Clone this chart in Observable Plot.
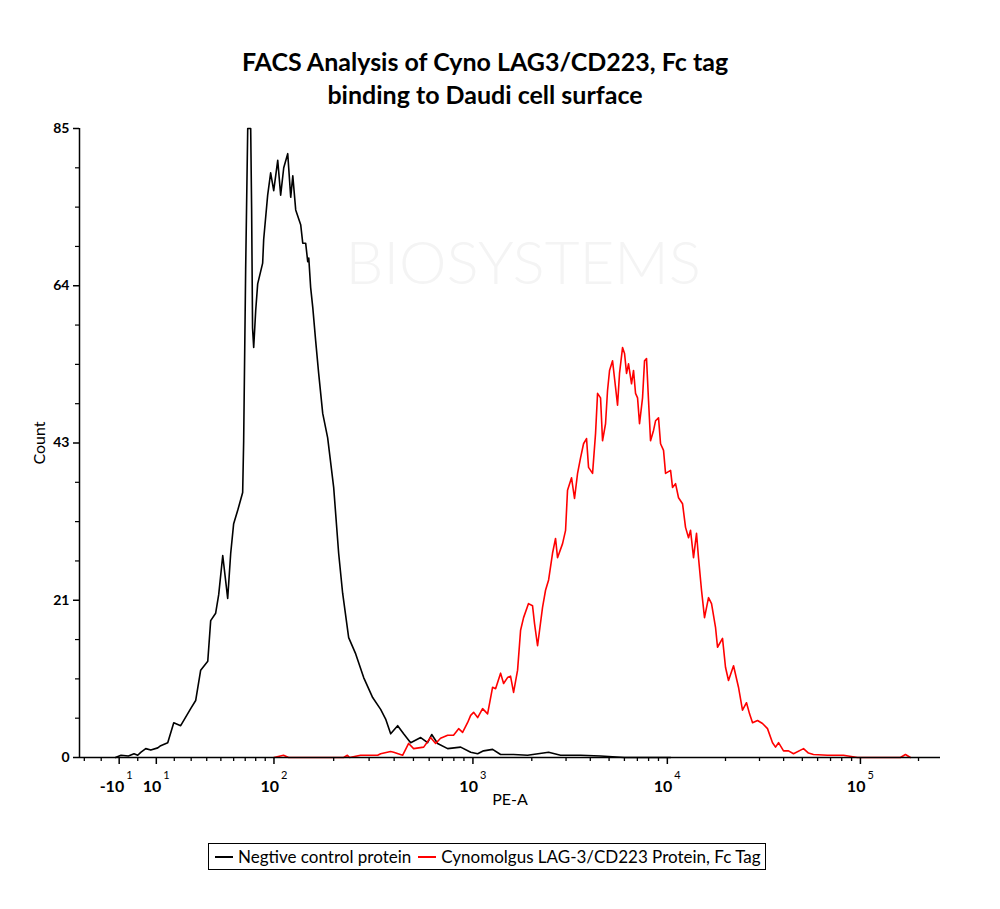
<!DOCTYPE html>
<html>
<head>
<meta charset="utf-8">
<script src="https://cdn.jsdelivr.net/npm/d3@7"></script>
<script src="https://cdn.jsdelivr.net/npm/@observablehq/plot@0.6"></script>
<style>
  html, body { margin: 0; padding: 0; background: #fff; }
  body { width: 1000px; height: 909px; font-family: Lato, "Open Sans", sans-serif; }
  #title { box-sizing: border-box; height: 115px; padding-top: 45px; text-align: center; font-weight: bold; font-size: 25px; line-height: 33px; color: #000; padding-right: 30px; }
  #chart { height: 715px; }
  #legend { position: absolute; left: 208px; top: 843px; width: 556px; height: 25px; border: 1px solid #000; display: flex; align-items: center; font-size: 17px; color: #000; white-space: nowrap; }
  .sw { display: inline-block; width: 18px; height: 2px; margin: 0 5px 0 6px; }
</style>
</head>
<body>
<div id="title">FACS Analysis of Cyno LAG3/CD223, Fc tag<br>binding to Daudi cell surface</div>
<div id="chart"></div>
<div id="legend"><span class="sw" style="background:#000"></span>Negtive control protein<span class="sw" style="background:#ff0000;margin-left:7px"></span>Cynomolgus LAG-3/CD223 Protein, Fc Tag</div>
<script>
// ---- data: PE-A intensity vs. event count ----
const seriesNames = ["Negtive control protein", "Cynomolgus LAG-3/CD223 Protein, Fc Tag"];
const seriesColors = ["#000000", "#ff0000"];

const negX = [-12, -9, -5, -2, 0, 1.6, 4.3, 7.0, 10.8, 12.4, 16.3, 19.7, 23.7, 29.7, 32.8, 36.0, 40.7, 42.7, 46.2, 48.4,
  51.4, 55.2, 57.6, 60.0, 63.4, 67.7, 68.6, 70.4, 72.3, 75.1, 76.0, 76.9, 78.0, 80.0, 82.0, 87.2, 88.3, 92.7, 96.1, 99.7,
  104.6, 108.3, 112.3, 117.7, 121.9, 124.9, 129.2, 136.9, 140.2, 145.0, 148.5, 150.3, 153.6, 157.4, 162.7, 168.4, 176.4, 186.7, 200.0, 211.7,
  221.6, 237.4, 257.3, 281.9, 312.5, 342.5, 362.8, 384.3, 416.6, 446.3, 484, 544, 589, 618, 662, 744, 866, 974, 1057, 1133,
  1260, 1384, 1613, 1903, 2440, 2811, 3563, 4518, 6000, 10400];
const negY = [0, 0.3, 0.2, 0.5, 0.3, 0.7, 1.2, 1.0, 1.3, 1.6, 2.0, 4.7, 4.3, 6.6, 7.7, 11.8, 13.0, 18.5, 19.5, 22.0,
  27.3, 21.5, 27.6, 31.6, 33.4, 35.8, 42.8, 66.0, 85, 85, 74, 58, 55.4, 60.4, 64.0, 66.8, 70.0, 76.0, 79.0, 76.6,
  80.7, 76.0, 79.7, 81.6, 75.7, 78.6, 74.0, 72.0, 69.5, 69.5, 67.0, 67.5, 63.5, 60.8, 56.3, 51.9, 46.5, 43.2, 36.5, 27.6,
  22.2, 16.2, 14.0, 10.8, 8.1, 6.5, 5.2, 3.2, 4.3, 3.2, 2.0, 2.7, 2.0, 3.1, 1.9, 1.2, 1.4, 0.7, 0.5, 0.9,
  1.1, 0.4, 0.4, 0.3, 0.7, 0.3, 0.3, 0.2, 0, 0];

const cynoX = [100, 112, 119, 224, 234, 240, 272, 297, 331, 342.5, 384, 398, 441, 473, 501, 563, 610, 647, 685, 744,
  797, 846, 886, 939, 974, 1008, 1057, 1120, 1188, 1260, 1305, 1384, 1434, 1502, 1556, 1613, 1691, 1752, 1815, 1924,
  2018, 2066, 2141, 2271, 2353, 2440, 2556, 2649, 2712, 2879, 2983, 3053, 3202, 3317, 3439, 3563, 3692, 3825, 3918, 4109,
  4258, 4360, 4518, 4626, 4794, 4909, 5028, 5211, 5401, 5529, 5661, 5868, 6010, 6155, 6300, 6530, 6688, 6850, 7015, 7182,
  7444, 7623, 7806, 7995, 8187, 8485, 8691, 9005, 9225, 9558, 9790, 10393, 10639, 11027, 11427, 11985, 12421, 12874, 13184, 13662,
  14157, 14498, 15026, 15575, 16335, 16932, 17756, 18186, 19300, 20000, 20730, 22010, 23350, 24490, 25690, 26640, 27610, 29300, 31090, 33000,
  35040, 36320, 37650, 39950, 42400, 45000, 50700, 53800, 57100, 67500, 81700, 96600, 161200, 171100, 181600];
const cynoY = [0, 0.3, 0, 0, 0.3, 0, 0.3, 0.3, 0.3, 0.5, 0.8, 0.7, 0.3, 1.9, 1.2, 1.4, 2.7, 1.9, 2.6, 3.0,
  3.0, 3.9, 3.4, 4.7, 5.7, 6.1, 5.4, 6.6, 5.9, 9.5, 9.3, 11.4, 10.0, 10.8, 11.0, 8.8, 11.8, 17.2, 18.9, 20.8,
  20.5, 18.1, 15.1, 20.3, 22.6, 24.0, 27.6, 29.6, 27.0, 28.9, 30.7, 36.1, 37.8, 35.0, 38.4, 40.5, 42.4, 43.1, 39.2, 38.4,
  43.8, 49.2, 48.6, 42.8, 45.1, 49.6, 52.3, 53.6, 50.0, 47.6, 51.9, 55.4, 54.6, 51.9, 53.2, 50.5, 52.3, 49.2, 48.6, 45.1,
  48.6, 53.6, 53.9, 48.2, 42.8, 44.2, 45.5, 45.9, 42.4, 41.5, 38.4, 38.8, 36.5, 37.0, 35.1, 34.3, 31.1, 29.7, 30.7, 27.0,
  30.3, 27.0, 22.6, 18.9, 21.6, 20.8, 17.6, 14.9, 16.1, 12.2, 10.4, 12.4, 9.5, 6.4, 7.4, 5.9, 4.7, 5.0, 4.6, 3.9,
  2.0, 1.4, 2.0, 0.9, 0.9, 0.5, 1.2, 0.6, 0.4, 0.3, 0.3, 0, 0, 0.4, 0];

// axis definitions
const xDomain = [-33, 260000];
const yDomain = [0, 85];
const xMajorTicks = [-10, 10, 100, 1000, 10000, 100000];
const xMajorBase = ["-10", "10", "10", "10", "10", "10"];
const xMajorExp = ["1", "1", "2", "3", "4", "5"];
const xMinorTicks = [-30, -20, 0, 20, 30, 40, 50, 60, 70, 80, 90, 200, 300, 400, 500, 600, 700, 800, 900,
  2000, 3000, 4000, 5000, 6000, 7000, 8000, 9000, 20000, 30000, 40000, 50000, 60000, 70000, 80000, 90000, 200000];
const yTicks = d3.range(0, 17).map(k => k * 85 / 16);
const yMajorTicks = yTicks.filter((d, i) => i % 4 === 0);
const yMinorTicks = yTicks.filter((d, i) => i % 4 !== 0);

// biexponential (logicle-like) display transform: value -> decades
const C = 17.95, P = 1.5;
function toValue(u) {
  const a = Math.abs(u);
  return Math.sign(u) * C * (Math.pow(10, a) - P * P * Math.pow(10, -a / P) + P * P - 1);
}
function disp(v) {
  let lo = -2, hi = 7;
  for (let i = 0; i < 60; i++) {
    const mid = (lo + hi) / 2;
    if (toValue(mid) < v) lo = mid; else hi = mid;
  }
  return (lo + hi) / 2;
}

const rows = [];
negX.forEach((x, i) => rows.push({series: seriesNames[0], x, y: negY[i]}));
cynoX.forEach((x, i) => rows.push({series: seriesNames[1], x, y: cynoY[i]}));

const majors = xMajorTicks.map((v, i) => ({v, base: xMajorBase[i], exp: xMajorExp[i]}));
const font = "Lato, 'Open Sans', sans-serif";

const chart = Plot.plot({
  width: 1000,
  height: 715,
  marginTop: 13,
  marginLeft: 79,
  marginRight: 60,
  marginBottom: 73,
  style: {fontFamily: font, background: "#fff", color: "#000"},
  x: {type: "linear", domain: xDomain.map(disp), axis: null},
  y: {domain: yDomain, axis: null},
  color: {domain: seriesNames, range: seriesColors},
  marks: [
    Plot.text(["BIOSYSTEMS"], {frameAnchor: "top-left", dx: 266, dy: 113, fontSize: 60, fontWeight: 300, fill: "#f4f4f4", textAnchor: "start", fontFamily: font, letterSpacing: 8}),
    Plot.line(rows, {x: d => disp(d.x), y: "y", z: "series", stroke: "series", strokeWidth: 1.6, curve: "linear"}),
    // axes lines
    Plot.ruleY([0], {stroke: "#000", strokeWidth: 1.5}),
    Plot.ruleX([xDomain[0]], {x: d => disp(d), stroke: "#000", strokeWidth: 1.5}),
    // x ticks
    Plot.ruleX(xMajorTicks, {x: d => disp(d), y1: 0, y2: 0, insetBottom: -7, stroke: "#000", strokeWidth: 1.5}),
    Plot.ruleX(xMinorTicks, {x: d => disp(d), y1: 0, y2: 0, insetBottom: -4, stroke: "#000", strokeWidth: 1.3}),
    Plot.text(majors, {x: d => disp(d.v), y: 0, text: "base", textAnchor: "end", dx: 5, dy: 29, fontWeight: "bold", fontSize: 16}),
    Plot.text(majors, {x: d => disp(d.v), y: 0, text: "exp", textAnchor: "start", dx: 7, dy: 18, fontSize: 11}),
    // y ticks
    Plot.ruleY(yMajorTicks, {y: d => d, x1: disp(xDomain[0]), x2: disp(xDomain[0]), insetLeft: -6, stroke: "#000", strokeWidth: 1.5}),
    Plot.ruleY(yMinorTicks, {y: d => d, x1: disp(xDomain[0]), x2: disp(xDomain[0]), insetLeft: -4, stroke: "#000", strokeWidth: 1.2}),
    Plot.text(yMajorTicks, {x: disp(xDomain[0]), y: d => d, text: d => String(Math.round(d)), textAnchor: "end", dx: -10, fontWeight: "bold", fontSize: 14}),
    // axis titles
    Plot.text(["Count"], {frameAnchor: "left", textAnchor: "middle", dx: -40, rotate: -90, fontSize: 16}),
    Plot.text(["PE-A"], {frameAnchor: "bottom", textAnchor: "middle", dy: 47, fontSize: 16})
  ]
});
document.getElementById("chart").appendChild(chart);
</script>
</body>
</html>
